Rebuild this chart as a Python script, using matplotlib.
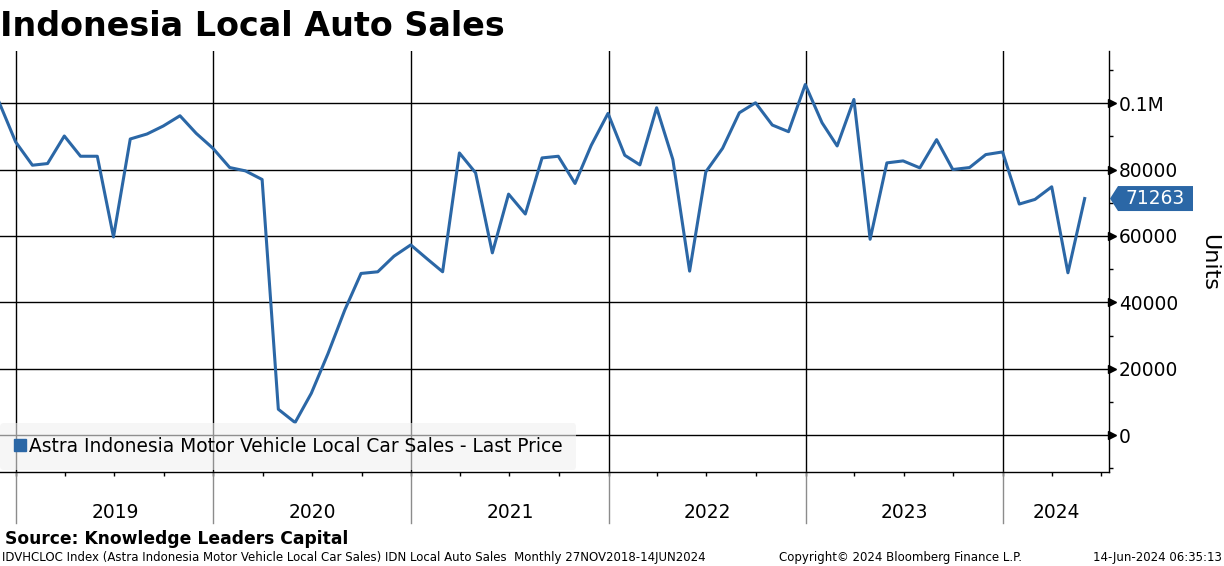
import pandas as pd
import numpy as np
import matplotlib
matplotlib.use('Agg')
import matplotlib.pyplot as plt
import matplotlib.transforms as mtransforms
from matplotlib.lines import Line2D
from matplotlib.patches import Polygon

plt.rcParams['font.family'] = 'DejaVu Sans'

# Astra Indonesia local car sales, units, month-end Nov 2018 .. May 2024
sales_2018 = [100400, 88300]
sales_2019 = [81300, 81800, 90100, 84000, 84000, 59700, 89200, 90700, 93100, 96200, 90900, 86400]
sales_2020 = [80600, 79600, 77000, 7800, 3800, 12600, 24600, 37700, 48700, 49200, 53900, 57300]
sales_2021 = [53000, 49200, 85000, 79000, 54900, 72600, 66600, 83500, 84000, 75800, 87300, 96900]
sales_2022 = [84300, 81400, 98600, 83000, 49400, 79300, 86400, 97100, 100100, 93400, 91400, 105600]
sales_2023 = [94100, 87100, 101100, 59000, 82000, 82600, 80500, 89000, 80000, 80600, 84500, 85300]
sales_2024 = [69600, 71000, 74800, 48900, 71263]

years = ['2019', '2020', '2021', '2022', '2023', '2024']
y_ticks = [0, 20000, 40000, 60000, 80000, 100000]
y_labels = ['0', '20000', '40000', '60000', '80000', '0.1M']

LINE = '#2b67a6'
W, H = 1224, 566


def generate():
    sales = sales_2018 + sales_2019 + sales_2020 + sales_2021 + sales_2022 + sales_2023 + sales_2024
    dates = pd.date_range('2018-11-30', periods=len(sales), freq='ME')

    fig = plt.figure(figsize=(W / 100, H / 100), dpi=100)
    ax = fig.add_axes([0, 1 - 472 / H, 1109 / W, (472 - 51) / H])

    ax.plot(dates, sales, color=LINE, lw=2.2, zorder=3)

    xmin, xmax = pd.Timestamp('2018-12-02'), pd.Timestamp('2024-07-15')
    ax.set_xlim(xmin, xmax)
    ax.set_ylim(-11100, 115700)

    for s in ['left', 'top']:
        ax.spines[s].set_visible(False)
    for s in ['right', 'bottom']:
        ax.spines[s].set_color('black')
        ax.spines[s].set_linewidth(1)

    # right-hand value axis
    ax.yaxis.tick_right()
    ax.set_yticks(y_ticks)
    ax.set_yticklabels(y_labels)
    ax.set_yticks(np.arange(-10000, 115000, 10000), minor=True)
    ax.tick_params(axis='y', which='major', length=0, pad=7, labelsize=13.4)
    ax.tick_params(axis='y', which='minor', length=3, width=1, color='black')
    ax.yaxis.grid(True, which='major', color='black', lw=1)
    ax.plot(np.full(len(y_ticks), 1 + 3 / 1109), y_ticks, marker='>', ms=6, ls='none',
            color='black', transform=ax.get_yaxis_transform(), clip_on=False, zorder=4)

    # time axis: quarter ticks, year separators, year labels
    quarters = pd.date_range('2019-01-01', '2024-07-01', freq='QS')
    ax.set_xticks(quarters)
    ax.set_xticklabels([''] * len(quarters))
    ax.tick_params(axis='x', which='major', length=3, width=1, color='black')
    xt = ax.get_xaxis_transform()
    for yr in years:
        start = pd.Timestamp(f'{yr}-01-01')
        end = min(pd.Timestamp(f'{int(yr) + 1}-01-01'), xmax)
        ax.axvline(start, color='black', lw=1, zorder=1)
        ax.plot([start, start], [0, -0.121], color='#8c8c8c', lw=1, transform=xt, clip_on=False)
        mid = start + (end - start) / 2
        ax.text(mid, -0.1093, yr, transform=xt, ha='center', va='baseline', fontsize=13.4)

    # legend
    handle = Line2D([], [], marker='s', ls='none', color=LINE, ms=8.3)
    leg = ax.legend([handle], ['Astra Indonesia Motor Vehicle Local Car Sales - Last Price'],
                    loc='lower left', bbox_to_anchor=(0, 0.005), frameon=True,
                    facecolor='#f0f0f0', edgecolor='none', framealpha=0.6, fancybox=True,
                    fontsize=13.4, handlelength=0.6, handletextpad=0.2, borderpad=0.75,
                    borderaxespad=0)
    leg.set_zorder(5)

    # last value tag
    tr = mtransforms.blended_transform_factory(ax.transAxes, ax.transData)
    x0, y0 = tr.transform((1, sales[-1]))
    ident = mtransforms.IdentityTransform()
    tag = Polygon([(x0 + 1, y0), (x0 + 9, y0 + 12.5), (x0 + 84, y0 + 12.5),
                   (x0 + 84, y0 - 12.5), (x0 + 9, y0 - 12.5)], closed=True,
                  facecolor=LINE, edgecolor='none', transform=ident)
    fig.patches.append(tag)
    fig.text(x0 + 46.5, y0, f'{sales[-1]}', color='white', fontsize=13.4,
             ha='center', va='center', transform=ident)

    fig.text(1209 / W, 1 - 262 / H, 'Units', rotation=270, ha='center', va='center', fontsize=16)

    # titles and footer
    fig.text(0, 1 - 36.5 / H, 'Indonesia Local Auto Sales', fontsize=24, weight='bold',
             ha='left', va='baseline')
    fig.text(5 / W, 1 - 544 / H, 'Source: Knowledge Leaders Capital', fontsize=12.3,
             weight='bold', ha='left', va='baseline')
    fig.text(2 / W, 1 - 561.5 / H,
             'IDVHCLOC Index (Astra Indonesia Motor Vehicle Local Car Sales) IDN Local Auto Sales  '
             'Monthly 27NOV2018-14JUN2024', fontsize=8.5, ha='left', va='baseline')
    fig.text(779 / W, 1 - 561.5 / H, 'Copyright\u00a9 2024 Bloomberg Finance L.P.', fontsize=8.5,
             ha='left', va='baseline')
    fig.text(1222 / W, 1 - 561.5 / H, '14-Jun-2024 06:35:13', fontsize=8.5,
             ha='right', va='baseline')

    fig.savefig('out.png', dpi=100)


if __name__ == "__main__":
    generate()
